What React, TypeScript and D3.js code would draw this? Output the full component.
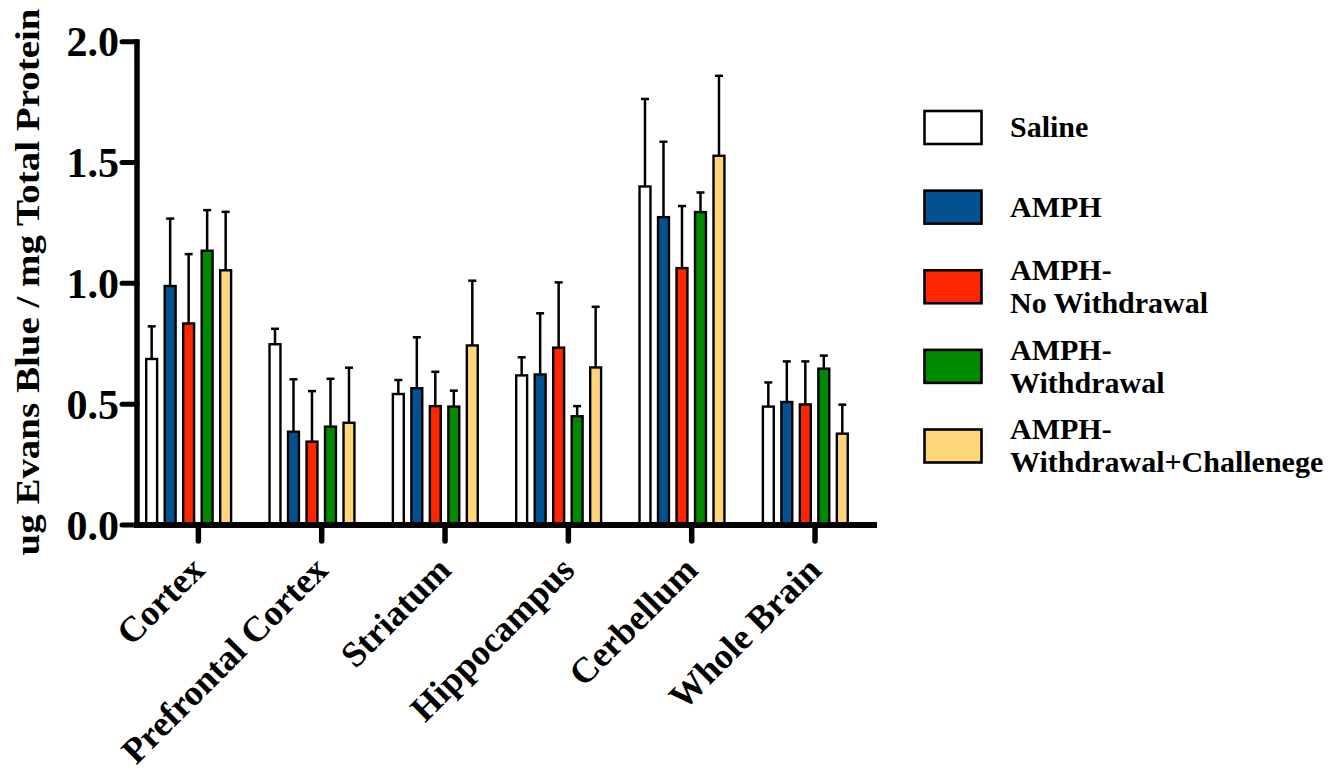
import * as d3 from "d3"

const regions = ["Cortex", "Prefrontal Cortex", "Striatum", "Hippocampus", "Cerbellum", "Whole Brain"]
const groups = ["Saline", "AMPH", "AMPH-\nNo Withdrawal", "AMPH-\nWithdrawal", "AMPH-\nWithdrawal+Challenege"]
const colors = ["#ffffff", "#02528f", "#ff2600", "#008a00", "#ffd57a"]

// mean per region, one array per group
const saline = [0.687, 0.748, 0.542, 0.619, 1.401, 0.49]
const amph = [0.989, 0.386, 0.566, 0.623, 1.274, 0.509]
const amphNoWd = [0.834, 0.345, 0.492, 0.734, 1.063, 0.499]
const amphWd = [1.135, 0.407, 0.49, 0.45, 1.295, 0.647]
const amphWdCh = [1.054, 0.423, 0.743, 0.652, 1.528, 0.378]

// error (upper only)
const salineErr = [0.135, 0.064, 0.058, 0.075, 0.362, 0.1]
const amphErr = [0.279, 0.217, 0.211, 0.253, 0.312, 0.168]
const amphNoWdErr = [0.287, 0.209, 0.142, 0.27, 0.257, 0.178]
const amphWdErr = [0.168, 0.198, 0.066, 0.042, 0.081, 0.054]
const amphWdChErr = [0.242, 0.228, 0.268, 0.251, 0.331, 0.12]

const yTicks = [0, 0.5, 1.0, 1.5, 2.0]

const means = [saline, amph, amphNoWd, amphWd, amphWdCh]
const errs = [salineErr, amphErr, amphNoWdErr, amphWdErr, amphWdChErr]

const FONT = "'Liberation Serif', 'Times New Roman', serif"

export default function App() {
  const width = 1342
  const height = 776

  const x0 = d3.scaleBand().domain(regions).range([136.7, 876.7])
  const x1 = d3.scaleBand().domain(groups).range([8.3, 95.6]).paddingInner(0.28)
  const y = d3.scaleLinear().domain([0, 2]).range([525, 41.7])
  const legendY = d3.scalePoint().domain(groups).range([127.5, 446])

  const bars: any[] = []
  groups.forEach((g, gi) => {
    regions.forEach((r, ri) => {
      bars.push({ g, r, gi, v: means[gi][ri], e: errs[gi][ri] })
    })
  })

  const bw = x1.bandwidth()
  const legendFs = 30

  return (
    <svg width={width} height={height} style={{ position: "absolute", left: 0, top: 0, background: "#fff" }}>
      {/* error bars first so the bar outline sits over the stem */}
      {bars.map((d, i) => {
        const cx = (x0(d.r) as number) + (x1(d.g) as number) + bw / 2
        return (
          <g key={"e" + i} stroke="#000" strokeWidth={2.5}>
            <line x1={cx} x2={cx} y1={y(d.v)} y2={y(d.v + d.e)} />
            <line x1={cx - 4} x2={cx + 4} y1={y(d.v + d.e)} y2={y(d.v + d.e)} />
          </g>
        )
      })}
      {bars.map((d, i) => (
        <rect
          key={"b" + i}
          x={(x0(d.r) as number) + (x1(d.g) as number) + 1.2}
          y={y(d.v)}
          width={bw - 2.4}
          height={y(0) - y(d.v)}
          fill={colors[d.gi]}
          stroke="#000"
          strokeWidth={2.4}
        />
      ))}

      {/* y axis */}
      <line x1={137} x2={137} y1={y(2) - 2.5} y2={y(0)} stroke="#000" strokeWidth={5.5} />
      {yTicks.map((t) => (
        <g key={t}>
          <line x1={122} x2={137} y1={y(t)} y2={y(t)} stroke="#000" strokeWidth={5} strokeLinecap="round" />
          <text
            x={119}
            y={y(t)}
            dy="0.35em"
            textAnchor="end"
            fontFamily={FONT}
            fontWeight="bold"
            fontSize={42}
          >
            {t.toFixed(1)}
          </text>
        </g>
      ))}

      {/* x axis */}
      <line x1={134} x2={877} y1={525} y2={525} stroke="#000" strokeWidth={6} />
      {regions.map((r) => {
        const cx = (x0(r) as number) + x0.bandwidth() / 2
        return (
          <g key={r}>
            <line x1={cx} x2={cx} y1={525} y2={541} stroke="#000" strokeWidth={5.5} strokeLinecap="round" />
            <text
              transform={`translate(${cx + 8},572) rotate(-45)`}
              textAnchor="end"
              fontFamily={FONT}
              fontWeight="bold"
              fontSize={36}
            >
              {r}
            </text>
          </g>
        )
      })}

      {/* y title */}
      <text
        transform="translate(39,282) rotate(-90)"
        textAnchor="middle"
        fontFamily={FONT}
        fontWeight="bold"
        fontSize={33}
        textLength={547}
        lengthAdjust="spacingAndGlyphs"
      >
        ug Evans Blue / mg Total Protein
      </text>

      {/* legend */}
      {groups.map((g, gi) => {
        const cy = legendY(g) as number
        const lines = g.split("\n")
        return (
          <g key={g}>
            <rect x={924.5} y={cy - 16.5} width={57} height={33} fill={colors[gi]} stroke="#000" strokeWidth={2.6} />
            {lines.map((l, li) => (
              <text
                key={li}
                x={1010}
                y={cy + 0.33 * legendFs + (li - (lines.length - 1) / 2) * 33}
                fontFamily={FONT}
                fontWeight="bold"
                fontSize={legendFs}
              >
                {l}
              </text>
            ))}
          </g>
        )
      })}
    </svg>
  )
}
